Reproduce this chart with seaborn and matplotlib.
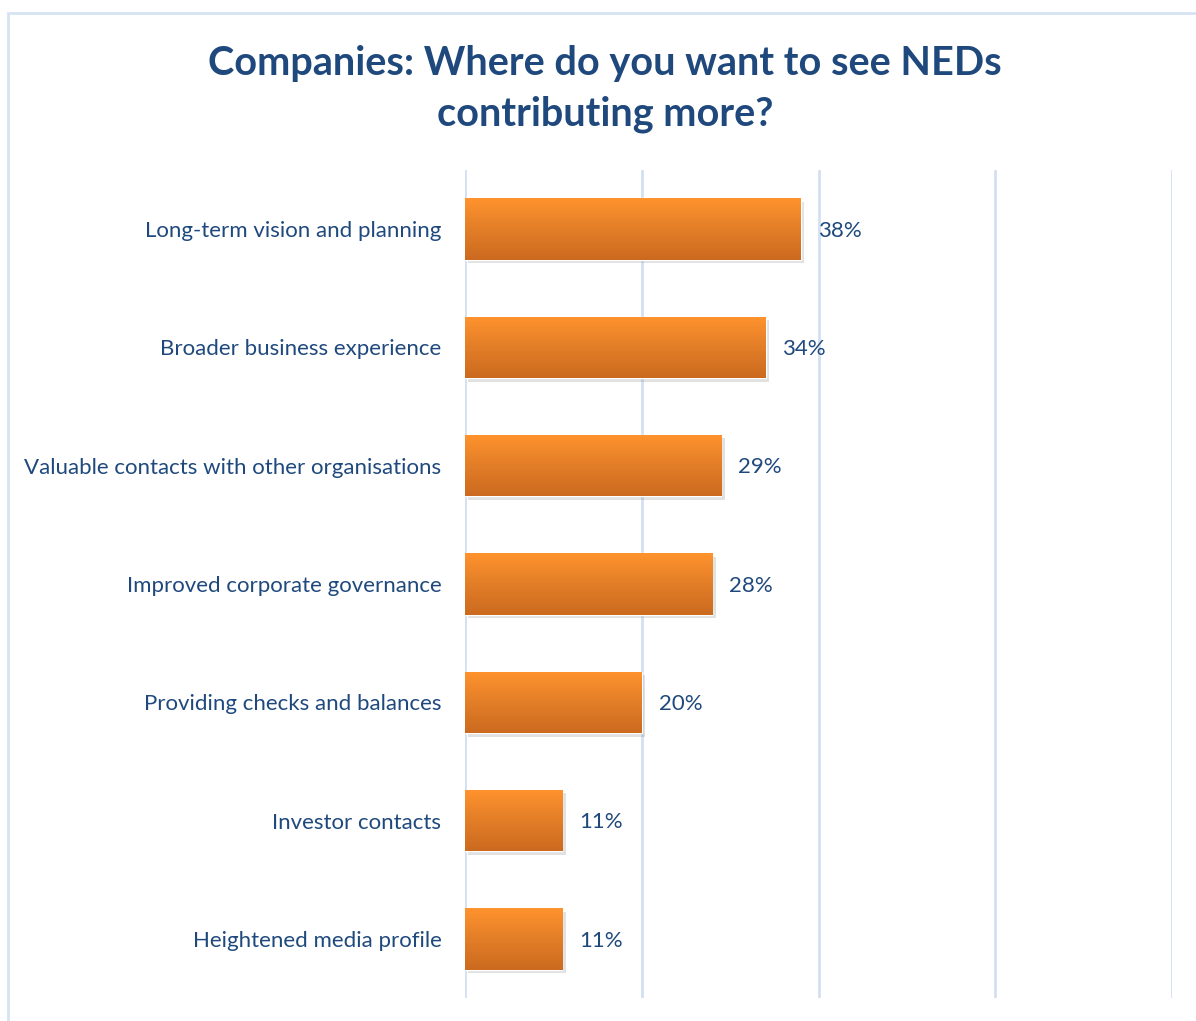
import matplotlib
matplotlib.use("Agg")
import matplotlib.pyplot as plt
import matplotlib.patheffects as pe
from matplotlib.patches import Rectangle
from matplotlib.colors import LinearSegmentedColormap
import numpy as np
import pandas as pd
import seaborn as sns

categories = [
    "Long-term vision and planning",
    "Broader business experience",
    "Valuable contacts with other organisations",
    "Improved corporate governance",
    "Providing checks and balances",
    "Investor contacts",
    "Heightened media profile",
]
values = [38, 34, 29, 28, 20, 11, 11]
x_ticks = [0, 20, 40, 60, 80]

title = "Companies: Where do you want to see NEDs\ncontributing more?"

TEXT_BLUE = "#1F497D"
GRID_BLUE = "#D3E0F1"

sns.set_theme(style="white")
plt.rcParams["font.family"] = ["Lato", "DejaVu Sans"]

df = pd.DataFrame({"category": categories, "value": values})

fig = plt.figure(figsize=(11.96, 10.21), dpi=100)
ax = fig.add_axes([0.3888, 0.0225, 0.5912, 0.811])

sns.barplot(data=df, y="category", x="value", orient="h", color="#F28B2C",
            width=0.52, ax=ax, saturation=1)

ax.set_xlim(0, 80)
ax.set_xticks(x_ticks)
ax.set_xticklabels([])
ax.tick_params(axis="x", length=0)
ax.tick_params(axis="y", length=0, pad=17, labelsize=16, labelcolor=TEXT_BLUE)
ax.set_xlabel("")
ax.set_ylabel("")
for s in ax.spines.values():
    s.set_visible(False)
ax.grid(axis="x", color=GRID_BLUE, linewidth=2)
ax.set_axisbelow(True)

# vertical orange gradient on each bar (light top, darker bottom), soft drop shadow
grad = LinearSegmentedColormap.from_list("bar", ["#FF932E", "#E37E28", "#CB6A1F"])
gvals = np.linspace(0, 1, 256).reshape(-1, 1)
for bar in ax.patches:
    bar.set_path_effects([pe.SimplePatchShadow(offset=(2.5, -2.5), shadow_rgbFace="#777777",
                                               alpha=0.22), pe.Normal()])
    x0, y0 = bar.get_x(), bar.get_y()
    w, h = bar.get_width(), bar.get_height()
    im = ax.imshow(gvals, cmap=grad, aspect="auto", origin="upper",
                   extent=[x0, x0 + w, y0 + h, y0], zorder=bar.get_zorder() + 0.1)
    im.set_clip_path(bar)

ax.set_xlim(0, 80)
ax.set_ylim(len(categories) - 0.5, -0.5)

for i, v in enumerate(values):
    ax.text(v + 1.9, i + 0.015, f"{v}%", va="center", ha="left", fontsize=16, color=TEXT_BLUE)

fig.text(0.506, 0.913, title, ha="center", va="center", fontsize=28.5, fontweight="bold",
         color=TEXT_BLUE, linespacing=1.45)

# light outer frame of the chart area
fig.patches.append(Rectangle((8 / 1196, -0.1), 1.2, 1 - 13 / 1021 + 0.1,
                             transform=fig.transFigure, fill=False,
                             edgecolor="#D6E3F3", linewidth=2))

fig.savefig("out.png", dpi=100)
